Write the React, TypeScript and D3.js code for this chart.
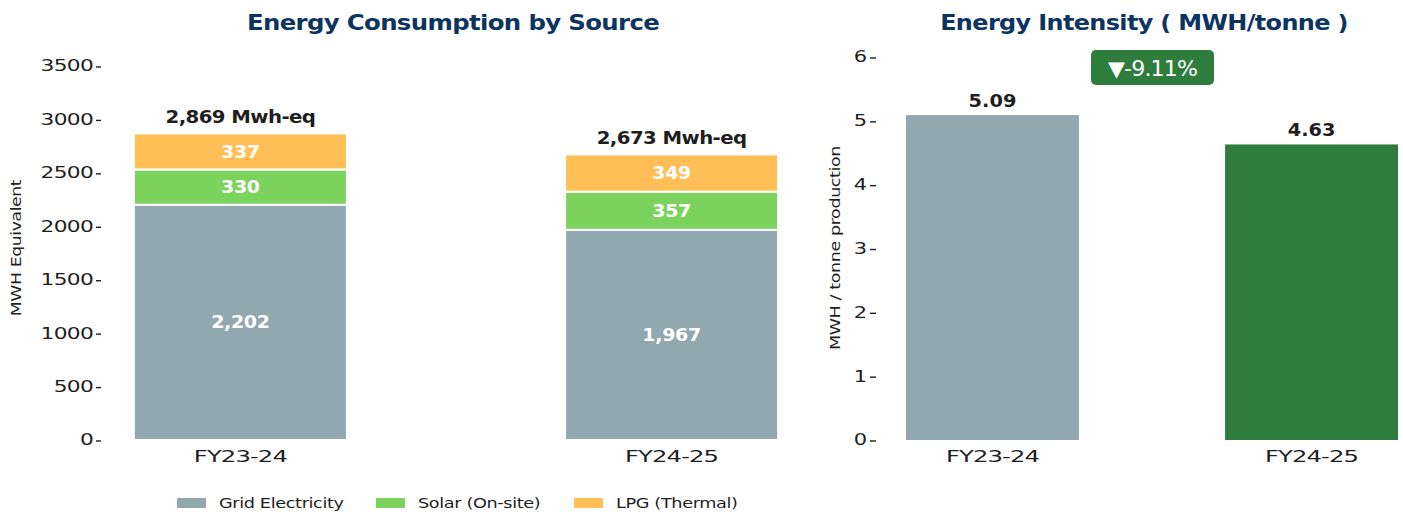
import React from "react";
import * as d3 from "d3";

const years = ["FY23-24", "FY24-25"];
const gridElectricity = [2202, 1967];
const solarOnsite = [330, 357];
const lpgThermal = [337, 349];
const totals = [2869, 2673];
const seriesNames = ["Grid Electricity", "Solar (On-site)", "LPG (Thermal)"];
const seriesColors = ["#91A8B1", "#7BD35E", "#FFBF56"];
const leftTicks = [0, 500, 1000, 1500, 2000, 2500, 3000, 3500];

const intensity = [5.09, 4.63];
const intensityColors = ["#91A8B1", "#2F7D3C"];
const rightTicks = [0, 1, 2, 3, 4, 5, 6];
const changeLabel = "▼-9.11%";

const FONT = "'DejaVu Sans', Verdana, sans-serif";
const NAVY = "#0D3461";
const DARK = "#1E1E1E";

type TProps = {
  x: number; y: number; sx?: number; rot?: number; size: number; weight?: number;
  fill?: string; anchor?: "start" | "middle" | "end"; dy?: string; ls?: number; children: React.ReactNode;
};
function T({ x, y, sx = 1, rot = 0, size, weight = 400, fill = DARK, anchor = "middle", dy, ls = 0, children }: TProps) {
  return (
    <text
      transform={`translate(${x},${y}) rotate(${rot}) scale(${sx},1)`}
      textAnchor={anchor}
      fontSize={size}
      fontWeight={weight}
      fill={fill}
      dy={dy}
      letterSpacing={ls}
    >
      {children}
    </text>
  );
}

export default function App() {
  const W = 1403, H = 516;
  const yL = d3.scaleLinear().domain([0, 3500]).range([440, 66]);
  const xL = d3.scaleBand().domain(years).range([105, 807]).paddingInner(0.506).paddingOuter(0.067);
  const rows = years.map((y, i) => ({ year: y, grid: gridElectricity[i], solar: solarOnsite[i], lpg: lpgThermal[i] }));
  const stack = d3.stack<any>().keys(["grid", "solar", "lpg"])(rows);
  const fmt = d3.format(",");

  const yR = d3.scaleLinear().domain([0, 6]).range([440, 57]);
  const xR = d3.scaleBand().domain(years).range([876, 1428]).paddingInner(0.458).paddingOuter(0.094);

  const legendX = [177, 376, 574];

  return (
    <svg width={W} height={H} style={{ position: "absolute", left: 0, top: 0, fontFamily: FONT }}>
      <rect width={W} height={H} fill="#fff" />
      <T x={453} y={30} size={22} weight={700} fill={NAVY} sx={1.11} ls={-0.6}>Energy Consumption by Source</T>
      <T x={1144} y={30} size={22} weight={700} fill={NAVY} sx={1.09} ls={-0.6}>Energy Intensity ( MWH/tonne )</T>

      {leftTicks.map((t) => (
        <g key={t}>
          <T x={93} y={yL(t)} dy="0.36em" anchor="end" size={15} sx={1.45} ls={-0.5}>{t}</T>
          <line x1={96} x2={101} y1={yL(t) + 1} y2={yL(t) + 1} stroke={DARK} strokeWidth={1.4} />
        </g>
      ))}
      <T x={21} y={248} rot={-90} size={14} sx={1.23} ls={-0.3}>MWH Equivalent</T>

      {stack.map((s, si) => (
        <g key={s.key}>
          {s.map((d, i) => {
            const x = xL(years[i])!;
            const y0 = yL(d[1]);
            const y1 = yL(d[0]);
            return (
              <g key={i}>
                <rect x={x} y={y0} width={xL.bandwidth()} height={y1 - y0} fill={seriesColors[si]} stroke="#fff" strokeWidth={2} />
                <T x={x + xL.bandwidth() / 2} y={(y0 + y1) / 2} dy="0.36em" size={17} weight={700} fill="#fff" sx={1.12} ls={-0.3}>
                  {fmt(d[1] - d[0])}
                </T>
              </g>
            );
          })}
        </g>
      ))}
      {years.map((y, i) => (
        <T key={y} x={xL(y)! + xL.bandwidth() / 2} y={yL(totals[i]) - 10} size={17} weight={700} sx={1.16} ls={-0.5}>
          {fmt(totals[i])} Mwh-eq
        </T>
      ))}
      {years.map((y) => (
        <T key={y} x={xL(y)! + xL.bandwidth() / 2} y={462} size={16} sx={1.52} ls={-0.6}>{y}</T>
      ))}

      {seriesNames.map((n, i) => (
        <g key={n}>
          <rect x={legendX[i]} y={498} width={29} height={10} fill={seriesColors[i]} />
          <T x={legendX[i] + 42} y={503} dy="0.36em" anchor="start" size={14.5} sx={1.22} ls={-0.3}>{n}</T>
        </g>
      ))}

      {rightTicks.map((t) => (
        <g key={t}>
          <T x={867} y={yR(t)} dy="0.36em" anchor="end" size={15} sx={1.4}>{t}</T>
          <line x1={870} x2={876} y1={yR(t) + 1} y2={yR(t) + 1} stroke={DARK} strokeWidth={1.4} />
        </g>
      ))}
      <T x={840} y={248} rot={-90} size={14} sx={1.25} ls={-0.3}>MWH / tonne production</T>

      {years.map((y, i) => (
        <g key={y}>
          <rect x={xR(y)!} y={yR(intensity[i])} width={xR.bandwidth()} height={yR(0) - yR(intensity[i])} fill={intensityColors[i]} />
          <T x={xR(y)! + xR.bandwidth() / 2} y={yR(intensity[i]) - 8} size={17} weight={700} sx={1.14}>
            {intensity[i].toFixed(2)}
          </T>
          <T x={xR(y)! + xR.bandwidth() / 2} y={462} size={16} sx={1.52} ls={-0.6}>{y}</T>
        </g>
      ))}

      <rect x={1091} y={50} width={123} height={35} rx={5} fill="#2F7D3C" />
      <T x={1152.5} y={68} dy="0.36em" size={21} fill="#fff" sx={1.05} ls={-0.8}>{changeLabel}</T>
    </svg>
  );
}
